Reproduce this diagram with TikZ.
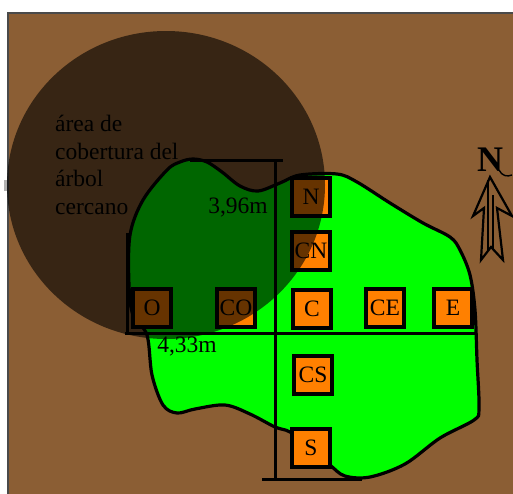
\documentclass[tikz,border=0pt]{standalone}
\usepackage{fontspec}
\setmainfont{Liberation Serif}
\definecolor{soilbrown}{HTML}{8B5E34}
\definecolor{lawngreen}{HTML}{00FF00}
\definecolor{plotorange}{HTML}{FF8000}
\definecolor{frameedge}{HTML}{4A4A4A}
\tikzset{
  plotbox/.style={draw=black,line width=4pt,fill=plotorange,minimum size=38pt,inner sep=0pt,font=\fontsize{23.5}{23.5}\selectfont},
  tapeline/.style={draw=black,line width=3pt},
  maplabel/.style={font=\fontsize{23.5}{27.7}\selectfont,inner sep=0pt}
}
\begin{document}
\begin{tikzpicture}[x=1pt,y=-1pt]
\useasboundingbox (0,0) rectangle (513,493);
\fill[white] (0,0) rectangle (513,493);
\fill[soilbrown,draw=frameedge,line width=2.4pt] (8,13) rectangle (520,500);
\fill[gray!60] (4,180) rectangle (7,191);
% Lawn outline, clockwise from the top left bump
\draw[fill=lawngreen,draw=black,line width=3.2pt] plot[smooth cycle,tension=0.55] coordinates {
  (193,159) (207,162) (222,172) (240,186) (258,191) (280,183) (300,175) (337,174)
  (357,182) (390,203) (423,223) (450,237) (460,250) (470,275) (475,310) (477,360)
  (479,408) (474,420) (440,438) (405,464) (370,477) (345,476) (330,465) (311,448) (290,432)
  (275,427) (250,414) (225,405) (195,409) (177,413) (163,405) (152,375) (147,335)
  (133,315) (129,285) (130,235) (143,200) (167,170) (180,162)};
% Tape lines
\draw[tapeline] (190,160) -- (283,160);
\draw[tapeline] (275,160) -- (275,479);
\draw[tapeline] (262,479) -- (362,479);
\draw[tapeline] (125,333) -- (477,333);
\draw[tapeline] (127,233) -- (127,333);
% Sample plots
\node[plotbox] (n) at (311,197) {N};
\node[plotbox] (cn) at (311,251) {CN};
\node[plotbox] (c) at (312,309) {C};
\node[plotbox] (ce) at (385,308) {CE};
\node[plotbox] (e) at (453,308) {E};
\node[plotbox] (cs) at (313,375) {CS};
\node[plotbox] (s) at (311,448) {S};
\node[plotbox] (o) at (152,308) {O};
\node[plotbox] (co) at (236,308) {CO};
% Distances
\node[maplabel] (ancho) at (238,208) {3,96m};
\node[maplabel] (largo) at (187,347) {4,33m};
% Tree canopy on top of everything
\fill[black,opacity=0.6] (166,185) ellipse [x radius=159,y radius=154];
\node[maplabel,anchor=west,align=left] (copa) at (55,165) {área de\\cobertura del\\árbol\\cercano};
% North arrow
\node[inner sep=0pt,font=\bfseries\fontsize{36}{36}\selectfont] (norte) at (490,160) {N};
\draw[black,line width=2.2pt,line join=miter] (490,177) -- (473,216) -- (484,208) -- (481,260)
  -- (491,247) -- (503,260) -- (497,208) -- (512,216) -- cycle;
\draw[black,line width=1.6pt] (488,180) -- (488,250) (493,195) -- (493,250);
\draw[black,line width=1.4pt] (499,170) .. controls (502,176) and (507,177) .. (512,175);
\end{tikzpicture}
\end{document}
